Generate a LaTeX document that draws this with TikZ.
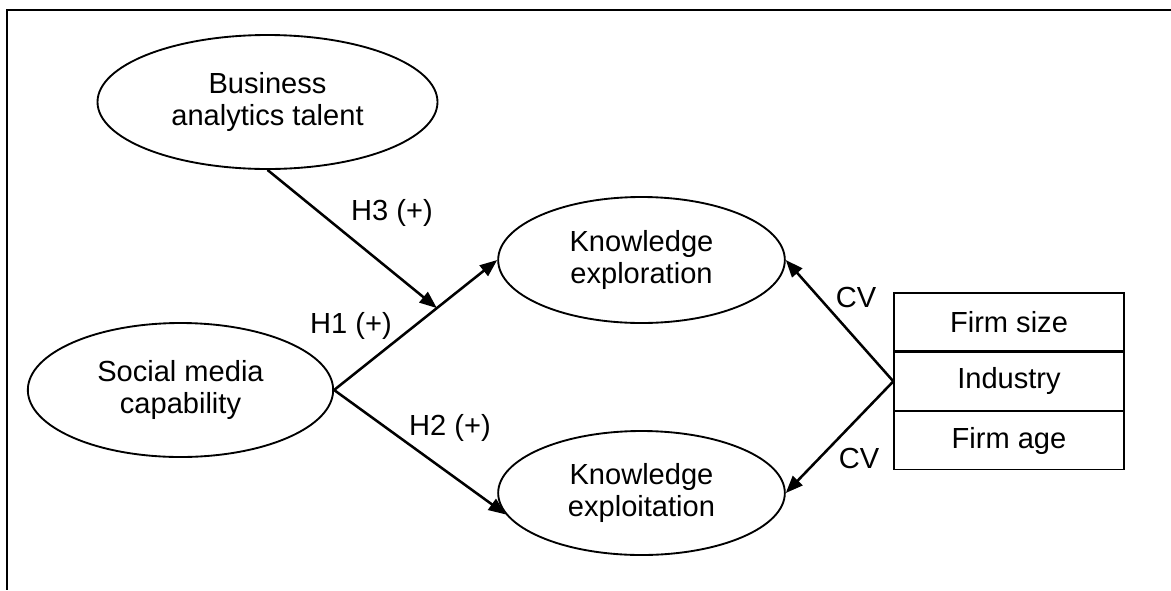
\documentclass[tikz,border=0pt]{standalone}
\usepackage{fontspec}
\setmainfont{Liberation Sans}
\usetikzlibrary{shapes.geometric, positioning, calc, arrows.meta}

\tikzset{
  construct/.style={draw, ellipse, line width=1.4pt, inner sep=0pt, align=center,
    font=\fontsize{21.8}{24}\selectfont},
  ctrlrow/.style={draw, rectangle, line width=1pt, minimum width=172.5pt,
    minimum height=43.5pt, inner sep=0pt, font=\fontsize{21.8}{24}\selectfont},
  hyp/.style={-{Triangle[length=13pt,width=10pt]}, line width=1.9pt},
  lab/.style={inner sep=0.75pt, font=\fontsize{21.8}{24}\selectfont}
}

\begin{document}
\begin{tikzpicture}[x=0.75pt,y=0.75pt,yscale=-1,xscale=1]
  \useasboundingbox (0,0) rectangle (1171,590);

  %Frame (top and left only)
  \draw [line width=1.5pt] (1171,9.5) -- (6.5,9.5) -- (6.5,590);

  %Constructs
  \node [construct, minimum width=255pt, minimum height=100.5pt] (bat) at (267.5,102) {Business\\analytics talent};
  \node [construct, minimum width=229pt, minimum height=100.5pt] (smc) at (180.5,390) {Social media\\capability};
  \node [construct, minimum width=215pt, minimum height=94.5pt] (ker) at (641.5,260) {Knowledge\\exploration};
  \node [construct, minimum width=215pt, minimum height=93pt] (ket) at (641.5,493) {Knowledge\\exploitation};

  %Control variables
  \node [ctrlrow] (size) at (1009,322) {Firm size};
  \node [ctrlrow, below=0pt of size] (industry) {Industry};
  \node [ctrlrow, below=0pt of industry] (age) {Firm age};

  %Paths
  \coordinate (mod) at ($(smc.east)!0.63!(ker.west)$);
  \draw [hyp] (smc.east) -- (ker.west);
  \draw [hyp] (smc.east) -- (ket.189);
  \draw [hyp] (bat.south) -- (mod);
  \draw [hyp] (industry.west) -- (ker.east);
  \draw [hyp] (industry.west) -- (ket.east);

  % Text Node
  \node [lab] (h1) at (351,326) {H1 (+)};
  \node [lab] (h2) at (450,428) {H2 (+)};
  \node [lab] (h3) at (392,213) {H3 (+)};
  \node [lab] (cvup) at (856,297) {CV};
  \node [lab] (cvdown) at (859,458) {CV};
\end{tikzpicture}
\end{document}
